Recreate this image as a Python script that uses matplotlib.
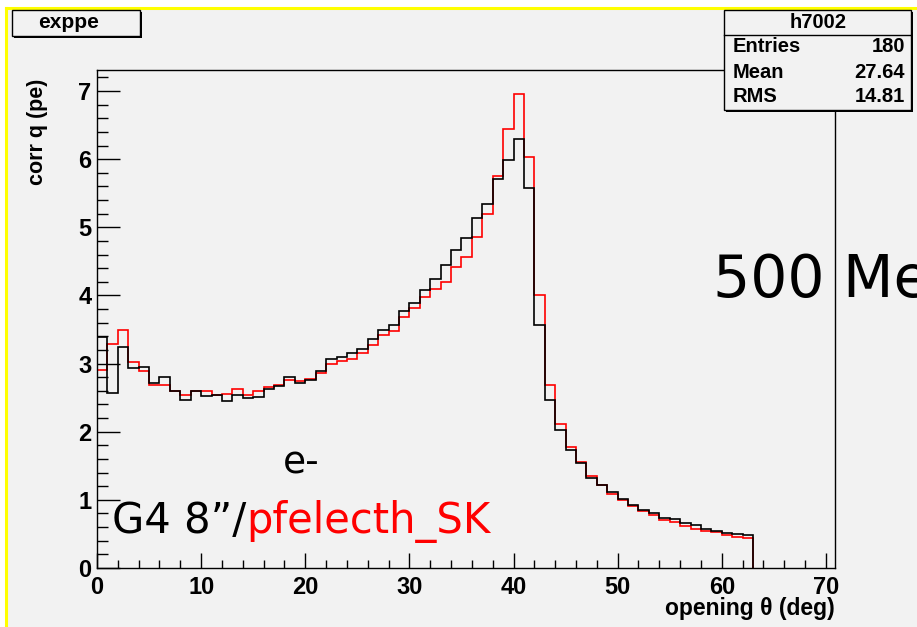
import numpy as np
import matplotlib
matplotlib.use('Agg')
import matplotlib.pyplot as plt
from matplotlib.patches import Rectangle
from matplotlib.lines import Line2D
from matplotlib.ticker import MultipleLocator, FixedLocator

# ---------------- data ----------------
bin_edges = np.arange(0, 64)  # opening angle bins (deg)
black_g4 = [3.39, 2.57, 3.25, 2.93, 2.95, 2.71, 2.80, 2.60, 2.47, 2.60,
            2.52, 2.54, 2.45, 2.54, 2.50, 2.51, 2.62, 2.67, 2.80, 2.72,
            2.76, 2.89, 3.07, 3.10, 3.16, 3.21, 3.36, 3.49, 3.57, 3.77,
            3.89, 4.08, 4.24, 4.44, 4.66, 4.84, 5.14, 5.34, 5.71, 5.99,
            6.30, 5.58, 3.56, 2.47, 2.02, 1.73, 1.54, 1.32, 1.22, 1.11,
            1.01, 0.92, 0.85, 0.81, 0.74, 0.72, 0.66, 0.63, 0.57, 0.54,
            0.52, 0.50, 0.48]
red_pfelecth = [2.90, 3.29, 3.49, 3.03, 2.89, 2.69, 2.69, 2.60, 2.54, 2.60,
                2.60, 2.54, 2.56, 2.62, 2.54, 2.60, 2.66, 2.68, 2.76, 2.75,
                2.78, 2.86, 2.99, 3.04, 3.07, 3.16, 3.27, 3.42, 3.48, 3.69,
                3.81, 3.97, 4.09, 4.20, 4.41, 4.57, 4.85, 5.19, 5.75, 6.44,
                6.96, 6.03, 4.01, 2.68, 2.11, 1.78, 1.55, 1.35, 1.22, 1.09,
                1.00, 0.91, 0.84, 0.78, 0.70, 0.68, 0.62, 0.57, 0.54, 0.53,
                0.48, 0.46, 0.44]
x_ticks = [0, 10, 20, 30, 40, 50, 60, 70]
y_ticks = [0, 1, 2, 3, 4, 5, 6, 7]
stats_names = ["Entries", "Mean", "RMS"]
stats_values = ["180", "27.64", "14.81"]

# ---------------- figure ----------------
W, H = 917, 627
fig = plt.figure(figsize=(W / 100, H / 100), dpi=100)
fig.patch.set_facecolor('white')

def fx(x):
    return x / W

def fy(y):
    return 1 - y / H

BG = '#f2f2f2'
fig.add_artist(Rectangle((fx(6), 0), 1 - fx(6), fy(8), transform=fig.transFigure,
                         facecolor=BG, edgecolor='none', zorder=-10))
fig.add_artist(Line2D([fx(6), fx(6)], [0, fy(8)], transform=fig.transFigure,
                      color='#ffff00', lw=2.2, zorder=-5))
fig.add_artist(Line2D([fx(6), 1], [fy(8), fy(8)], transform=fig.transFigure,
                      color='#ffff00', lw=2.2, zorder=-5))

ax = fig.add_axes([fx(97), fy(568), fx(835) - fx(97), fy(70) - fy(568)])
ax.set_facecolor(BG)
ax.stairs(red_pfelecth, bin_edges, baseline=0, color='#ff0000', lw=1.2)
ax.stairs(black_g4, bin_edges, baseline=0, color='black', lw=1.2)
ax.set_xlim(0, 70.87)
ax.set_ylim(0, 7.308)

for s in ax.spines.values():
    s.set_linewidth(1.0)
    s.set_color('black')

ax.xaxis.set_major_locator(FixedLocator(x_ticks))
ax.yaxis.set_major_locator(FixedLocator(y_ticks))
ax.xaxis.set_minor_locator(MultipleLocator(2))
ax.yaxis.set_minor_locator(MultipleLocator(0.2))
ax.tick_params(axis='y', which='major', direction='in', length=16.5, width=1, pad=4)
ax.tick_params(axis='y', which='minor', direction='in', length=8, width=1)
ax.tick_params(axis='x', which='major', direction='in', length=11, width=1, pad=6)
ax.tick_params(axis='x', which='minor', direction='in', length=5.5, width=1)
ax.set_xticklabels([str(v) for v in x_ticks])
ax.set_yticklabels([str(v) for v in y_ticks])
for lab in ax.get_xticklabels() + ax.get_yticklabels():
    lab.set_fontfamily('Liberation Sans')
    lab.set_fontweight('bold')
    lab.set_fontsize(17)

FB = dict(family='Liberation Sans', weight='bold')
fig.text(fx(38), fy(79), 'corr q (pe)', rotation=90, ha='center', va='top', fontsize=15.5, **FB)
fig.text(fx(835), fy(609), 'opening \u03b8 (deg)', ha='right', va='center', fontsize=16.5, **FB)

# title box
fig.add_artist(Rectangle((fx(14), fy(38)), fx(140) - fx(12), fy(10) - fy(36),
                         transform=fig.transFigure, facecolor='black', edgecolor='none', zorder=4))
fig.add_artist(Rectangle((fx(12), fy(36)), fx(140) - fx(12), fy(10) - fy(36),
                         transform=fig.transFigure, facecolor=BG, edgecolor='black', lw=1, zorder=5))
fig.text(fx(69), fy(22), 'exppe', ha='center', va='center', fontsize=15, zorder=6, **FB)

# stats box
fig.add_artist(Rectangle((fx(726), fy(112)), fx(911) - fx(724), fy(10) - fy(110),
                         transform=fig.transFigure, facecolor='black', edgecolor='none', zorder=4))
fig.add_artist(Rectangle((fx(724), fy(110)), fx(911) - fx(724), fy(10) - fy(110),
                         transform=fig.transFigure, facecolor=BG, edgecolor='black', lw=1, zorder=5))
fig.add_artist(Line2D([fx(724), fx(911)], [fy(35), fy(35)], transform=fig.transFigure,
                      color='black', lw=1, zorder=6))
fig.text(fx(818), fy(22), 'h7002', ha='center', va='center', fontsize=14.5, zorder=7, **FB)
for i, (n, v) in enumerate(zip(stats_names, stats_values)):
    yy = 47 + 25 * i
    fig.text(fx(733), fy(yy), n, ha='left', va='center', fontsize=14.5, zorder=7, **FB)
    fig.text(fx(905), fy(yy), v, ha='right', va='center', fontsize=14.5, zorder=7, **FB)

# annotations
fig.text(fx(713), fy(297), '500 MeV', ha='left', va='baseline', fontsize=42,
         family='DejaVu Sans', zorder=8)
fig.text(fx(283), fy(474), 'e-', ha='left', va='baseline', fontsize=27,
         family='DejaVu Sans', zorder=8)
t1 = fig.text(fx(112), fy(533), 'G4 8\u201d/', ha='left', va='baseline', fontsize=30,
              family='DejaVu Sans', zorder=8)
fig.canvas.draw()
bb = t1.get_window_extent()
fig.text(bb.x1 / W, fy(533), 'pfelecth_SK', ha='left', va='baseline', fontsize=30,
         family='DejaVu Sans', color='#ff0000', zorder=8)

fig.savefig('out.png', dpi=100, facecolor=fig.get_facecolor())
